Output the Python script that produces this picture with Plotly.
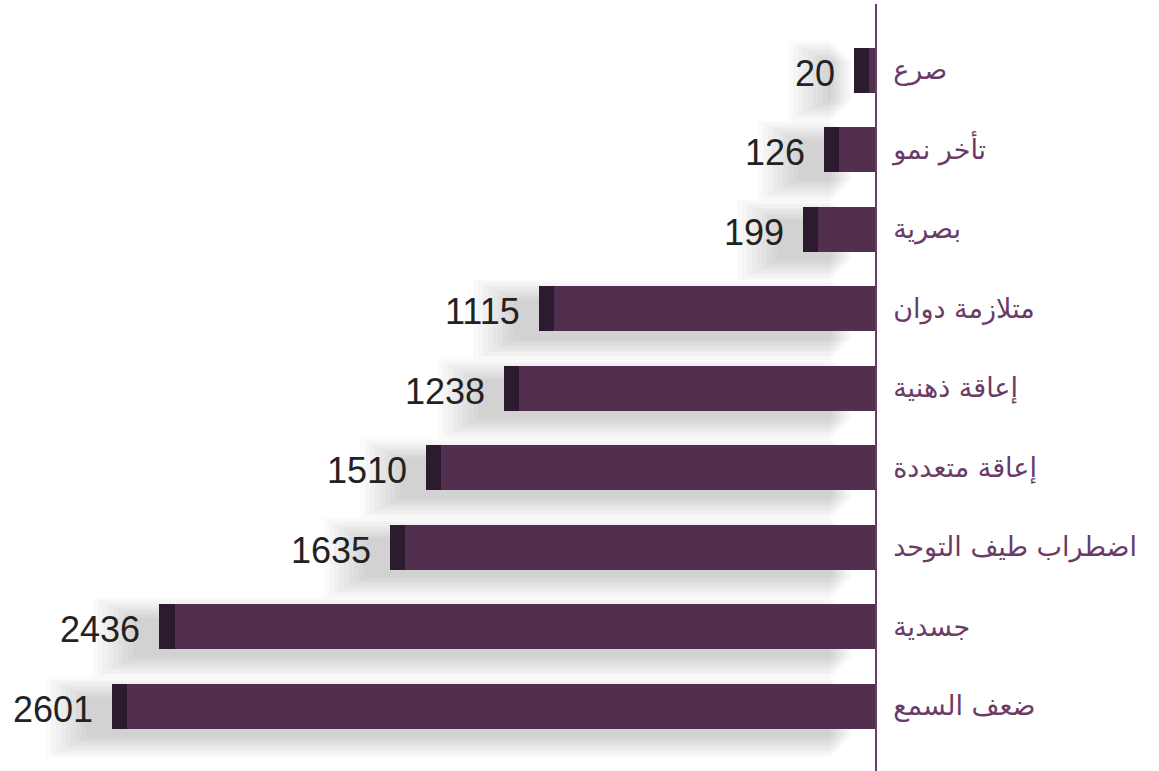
import plotly.graph_objects as go

categories = ["صرع", "تأخر نمو", "بصرية", "متلازمة دوان", "إعاقة ذهنية",
              "إعاقة متعددة", "اضطراب طيف التوحد", "جسدية", "ضعف السمع"]
values = [20, 126, 199, 1115, 1238, 1510, 1635, 2436, 2601]
value_labels = [str(v) for v in values]

CAP = 53          # dark end-cap width, data units
PX = 0.2875       # px per data unit
ROW = 79.5        # px per category
XMAX = 875 / PX

n = len(categories)
idx = list(range(n))
totals = [v + CAP for v in values]

fig = go.Figure()

# soft drop shadow (layered translucent bars)
for k in range(9):
    g = k * 2.5
    w = (40 + 2 * g) / ROW
    fig.add_trace(go.Bar(
        y=idx, x=[t + (2 + g) / PX for t in totals], base=[(24 + g) / PX] * n,
        orientation="h", width=[w] * n, offset=[-w / 2 + 11 / ROW] * n,
        marker=dict(color="rgba(0,0,0,0.02)", line=dict(width=0)),
        hoverinfo="skip", showlegend=False))

# main bars
fig.add_trace(go.Bar(
    y=idx, x=values, base=[0] * n, orientation="h", width=[45 / ROW] * n,
    marker=dict(color="#532f4f", line=dict(width=0)), showlegend=False))
# dark caps
fig.add_trace(go.Bar(
    y=idx, x=[CAP] * n, base=values, orientation="h", width=[45 / ROW] * n,
    marker=dict(color="#2c1a2e", line=dict(width=0)), showlegend=False))

for i, (t, lab) in enumerate(zip(totals, value_labels)):
    fig.add_annotation(x=t, y=i, text=lab, showarrow=False, xanchor="right",
                       yanchor="middle", xshift=-17, yshift=-3,
                       font=dict(family="Liberation Sans, Arial", size=36, color="#222222"))

top = -66 / ROW
bottom = (n - 1) + 65 / ROW

fig.update_layout(
    width=1159, height=771,
    margin=dict(l=0, r=284, t=4, b=0),
    paper_bgcolor="white", plot_bgcolor="white",
    barmode="overlay", bargap=0,
    xaxis=dict(range=[XMAX, 0], showgrid=False, zeroline=False,
               showticklabels=False, showline=False, fixedrange=True),
    yaxis=dict(range=[bottom, top], side="right", tickmode="array",
               tickvals=idx, ticktext=categories, showgrid=False, zeroline=False,
               showline=True, linecolor="#6b3b68", linewidth=1.5, ticks="",
               ticklabelstandoff=11, automargin=False,
               tickfont=dict(family="DejaVu Sans", size=27, color="#6b3b68")),
)

fig.write_html("out.html", config={"displayModeBar": False},
               post_script="document.body.style.margin='0';")
